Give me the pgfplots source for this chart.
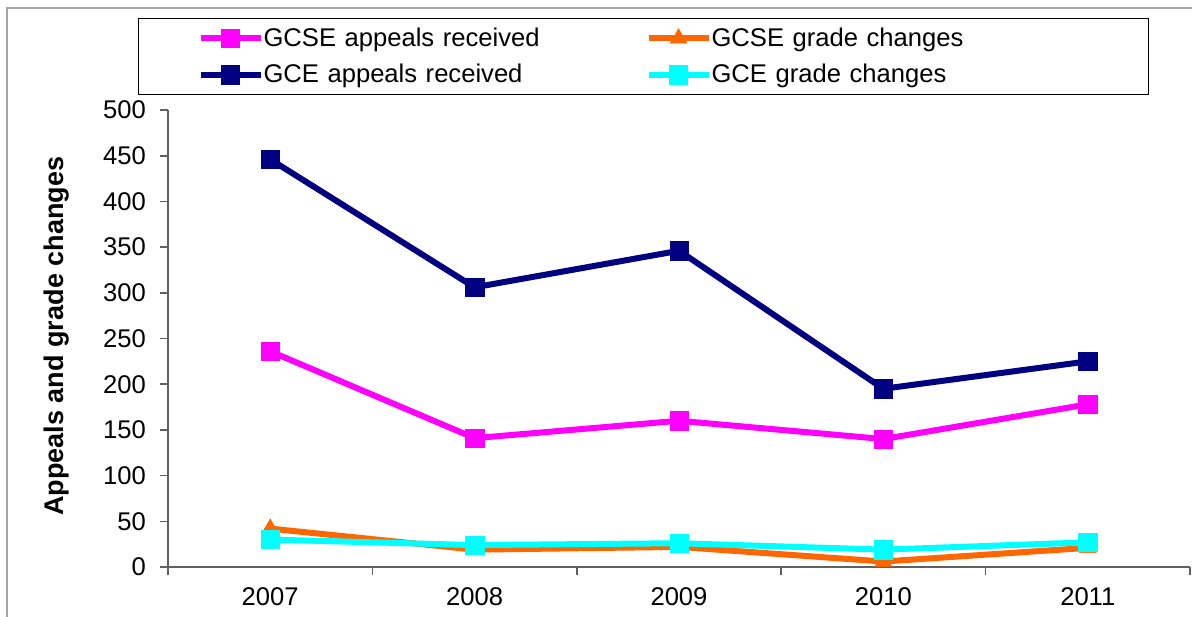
\documentclass[border=0pt]{standalone}
\usepackage{fontspec}
\setmainfont{Liberation Sans}
\usepackage{pgfplots}
\pgfplotsset{compat=1.18}
\definecolor{gcsea}{HTML}{FF00FF}
\definecolor{gcseg}{HTML}{FF6600}
\definecolor{gcea}{HTML}{000080}
\definecolor{gceg}{HTML}{00FFFF}
\definecolor{axgray}{HTML}{606060}
\begin{document}
\begin{tikzpicture}
\useasboundingbox (-84pt,-24.5pt) rectangle (512pt,283.5pt);
\draw[gray!70, line width=0.8pt] (-80.5pt,-30pt) -- (-80.5pt,279.5pt) -- (520pt,279.5pt);
\begin{axis}[
  at={(0,0)}, anchor=south west,
  scale only axis, width=511pt, height=228.5pt,
  xmin=-0.5, xmax=4.5, ymin=0, ymax=500,
  axis lines*=left,
  axis line style={draw=axgray, line width=1pt},
  xtick={0,1,2,3,4},
  xticklabels={2007,2008,2009,2010,2011},
  x tick style={draw=none},
  extra x ticks={-0.5,0.5,1.5,2.5,3.5,4.5},
  extra x tick labels={},
  extra x tick style={x tick style={draw=axgray, line width=0.8pt}},
  ytick={0,50,...,500},
  y tick style={draw=axgray, line width=0.8pt},
  tick align=outside, major tick length=4pt,
  /pgf/number format/assume math mode=true,
  ticklabel style={font=\fontsize{12.8}{15}\selectfont},
  xticklabel style={yshift=-3pt},
  yticklabel style={xshift=-3.5pt},
  ylabel={Appeals and grade changes},
  every axis y label/.style={at={(axis description cs:-0.1086,0.505)}, rotate=90, anchor=center, font=\bfseries\fontsize{13.5}{15}\selectfont},
  clip=false,
  legend columns=2,
  legend cell align=left,
  legend image code/.code={\draw[#1, mark repeat=2, mark phase=2] plot coordinates {(0pt,0pt) (15pt,0pt) (30pt,0pt)};},
  legend style={
    at={(axis description cs:-0.0294,1.2013)}, anchor=north west,
    draw=black, line width=0.6pt,
    inner xsep=29.5pt, inner ysep=2.5pt,
    row sep=3.5pt, column sep=0pt,
    nodes={inner xsep=0pt},
    font=\fontsize{12.8}{15}\selectfont,
    /tikz/column 2/.style={text width=191pt},
    /tikz/column 4/.style={text width=189pt},
  },
]
\addplot[gcsea, line width=3pt, mark=square*, mark size=4.6pt, mark options={line width=0.3pt}]
  coordinates {(0,236) (1,141) (2,160) (3,140) (4,178)};
\addlegendentry{GCSE appeals received}
\addplot[gcseg, line width=3pt, mark=triangle*, mark size=4.8pt, mark options={line width=0.3pt}]
  coordinates {(0,42) (1,19) (2,22) (3,6) (4,21)};
\addlegendentry{GCSE grade changes}
\addplot[gcea, line width=3pt, mark=square*, mark size=4.6pt, mark options={line width=0.3pt}]
  coordinates {(0,446) (1,306) (2,346) (3,195) (4,225)};
\addlegendentry{GCE appeals received}
\addplot[gceg, line width=3pt, mark=square*, mark size=4.6pt, mark options={line width=0.3pt}]
  coordinates {(0,30) (1,24) (2,26) (3,19) (4,27)};
\addlegendentry{GCE grade changes}
\end{axis}
\end{tikzpicture}
\end{document}
